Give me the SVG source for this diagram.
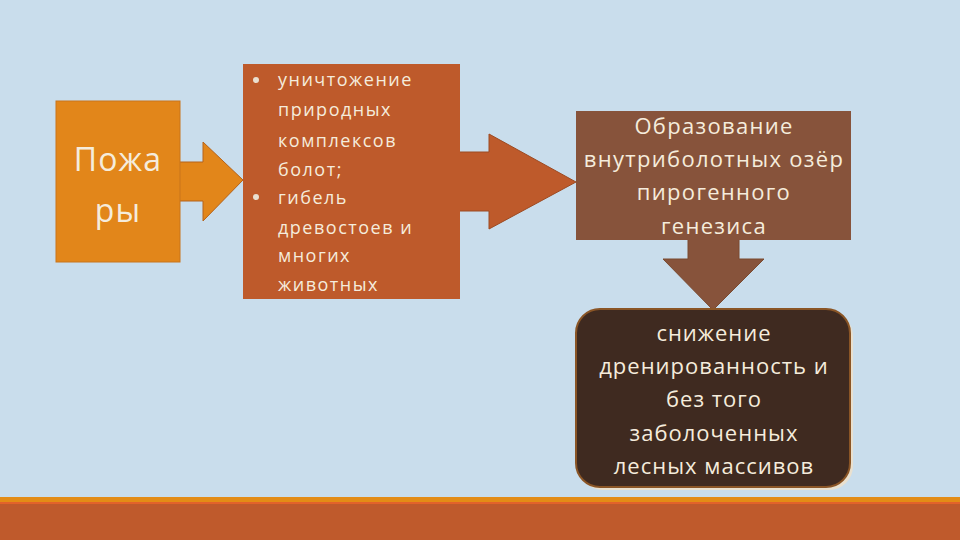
<svg xmlns="http://www.w3.org/2000/svg" width="960" height="540" viewBox="0 0 960 540">
<style>
.t{font-family:"Open Sans","DejaVu Sans",sans-serif;fill:#f5ecdc;}
.c{text-anchor:middle;}
</style>
<rect width="960" height="540" fill="#c9ddec"/>
<rect x="0" y="497" width="960" height="43" fill="#bf5a2c"/>
<rect x="0" y="497" width="960" height="5" fill="#e38c16"/>
<rect x="0" y="502" width="960" height="2" fill="#e2622a"/>
<g id="connectors">
<polygon points="178,162 203,162 203,142 243,180 203,221 203,201 178,201" fill="#e2861a" stroke="#b5621a" stroke-width="1"/>
<polygon points="458,152 489,152 489,134 576,182 489,229 489,211 458,211" fill="#be5a2b" stroke="#9c4a22" stroke-width="1"/>
<polygon points="688,238 739,238 739,259 764,259 713,310 663,259 688,259" fill="#87533b" stroke="#7a4a30" stroke-width="1"/>
</g>
<g id="node1">
<rect x="56" y="101" width="124" height="161" fill="#e2861a" stroke="#c9741a" stroke-width="1"/>
<text class="t c" x="118" y="171" font-size="32" letter-spacing="1.2">Пожа</text>
<text class="t c" x="118" y="222" font-size="32" letter-spacing="1.2">ры</text>
</g>
<g id="node2">
<rect x="243" y="64" width="217" height="235" fill="#be5a2b"/>
<circle cx="256" cy="80" r="3" fill="#eadfd0"/>
<circle cx="256" cy="197" r="3" fill="#eadfd0"/>
<g class="t" font-size="18" letter-spacing="1.5">
<text x="278" y="86">уничтожение</text>
<text x="278" y="116">природных</text>
<text x="278" y="147">комплексов</text>
<text x="278" y="176">болот;</text>
<text x="278" y="204">гибель</text>
<text x="278" y="234">древостоев и</text>
<text x="278" y="262">многих</text>
<text x="278" y="291">животных</text>
</g>
</g>
<g id="node3">
<rect x="576" y="111" width="275" height="129" fill="#87533b"/>
<g class="t c" font-size="22" letter-spacing="1.3">
<text x="714" y="134">Образование</text>
<text x="714" y="167">внутриболотных озёр</text>
<text x="714" y="200">пирогенного</text>
<text x="714" y="234">генезиса</text>
</g>
</g>
<g id="node4">
<rect x="579" y="312" width="274" height="178" rx="24" fill="#e9e0cf"/>
<rect x="576" y="309" width="274" height="178" rx="24" fill="#3f2a20" stroke="#8a5526" stroke-width="2"/>
<g class="t c" font-size="22" letter-spacing="1">
<text x="714" y="341">снижение</text>
<text x="714" y="374">дренированность и</text>
<text x="714" y="407">без того</text>
<text x="714" y="441">заболоченных</text>
<text x="714" y="474">лесных массивов</text>
</g>
</g>
</svg>
